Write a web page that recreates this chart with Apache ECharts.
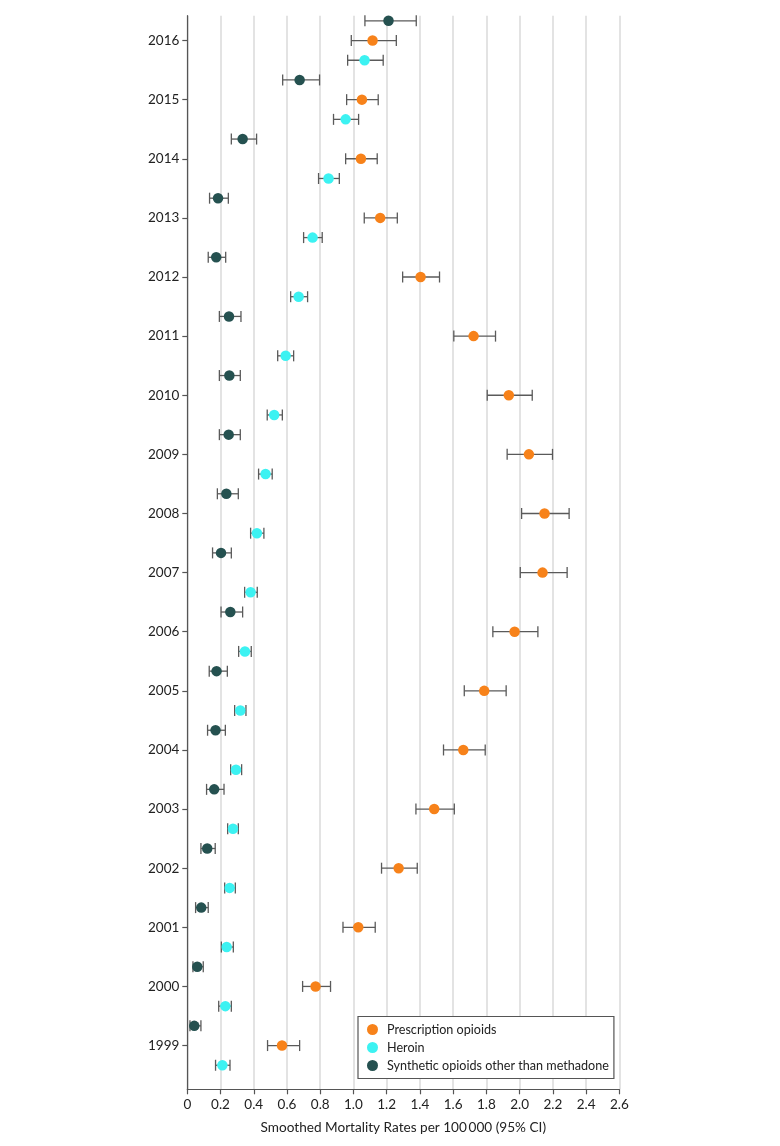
<!DOCTYPE html>
<html>
<head>
<meta charset="utf-8">
<script src="https://cdn.jsdelivr.net/npm/echarts@6/dist/echarts.min.js"></script>
<style>html,body{margin:0;padding:0;background:#fff}#c{width:780px;height:1146px}</style>
</head>
<body>
<div id="c"></div>
<script>
const years = [1999,2000,2001,2002,2003,2004,2005,2006,2007,2008,2009,2010,2011,2012,2013,2014,2015,2016];
const xTicks = [0,0.2,0.4,0.6,0.8,1.0,1.2,1.4,1.6,1.8,2.0,2.2,2.4,2.6];

const prescRate = [0.570,0.772,1.029,1.272,1.486,1.661,1.787,1.970,2.138,2.150,2.056,1.935,1.723,1.404,1.161,1.045,1.051,1.115];
const prescLow  = [0.483,0.694,0.937,1.169,1.376,1.542,1.667,1.839,2.004,2.012,1.925,1.805,1.604,1.296,1.065,0.953,0.959,0.987];
const prescHigh = [0.676,0.862,1.131,1.384,1.607,1.793,1.919,2.110,2.286,2.298,2.198,2.076,1.855,1.518,1.264,1.143,1.149,1.258];

const heroinRate = [0.211,0.229,0.237,0.255,0.275,0.293,0.319,0.347,0.381,0.419,0.471,0.523,0.592,0.670,0.754,0.850,0.953,1.067];
const heroinLow  = [0.170,0.189,0.205,0.225,0.243,0.261,0.285,0.309,0.345,0.381,0.429,0.481,0.544,0.622,0.700,0.790,0.880,0.965];
const heroinHigh = [0.257,0.265,0.277,0.289,0.307,0.327,0.353,0.385,0.421,0.461,0.511,0.572,0.640,0.724,0.812,0.915,1.031,1.179];

const synthRate = [0.042,0.060,0.084,0.120,0.162,0.170,0.176,0.259,0.203,0.235,0.249,0.253,0.251,0.174,0.185,0.333,0.676,1.211];
const synthLow  = [0.016,0.034,0.050,0.082,0.116,0.122,0.132,0.203,0.152,0.181,0.193,0.193,0.193,0.126,0.134,0.265,0.574,1.069];
const synthHigh = [0.082,0.096,0.126,0.168,0.221,0.229,0.241,0.333,0.265,0.307,0.319,0.319,0.323,0.231,0.247,0.417,0.796,1.378];

const seriesNames = ['Prescription opioids','Heroin','Synthetic opioids other than methadone'];
const colors = ['#F7821A','#3CF2F2','#255150'];
const offsets = [0, -1/3, 1/3];

const FONT = 'Lato';
const chart = echarts.init(document.getElementById('c'), null, {renderer:'canvas'});

function pts(rate, off){ return years.map((y,i)=>[rate[i], y+off]); }
function bars(low, high, off){ return years.map((y,i)=>[low[i], high[i], y+off]); }

function errItem(params, api){
  const y = api.value(2);
  const a = api.coord([api.value(0), y]);
  const b = api.coord([api.value(1), y]);
  const h = 5.5;
  const st = {stroke:'#5a5a5a', lineWidth:1.3};
  return {type:'group', children:[
    {type:'line', shape:{x1:a[0],y1:a[1],x2:b[0],y2:b[1]}, style:st},
    {type:'line', shape:{x1:a[0],y1:a[1]-h,x2:a[0],y2:a[1]+h}, style:st},
    {type:'line', shape:{x1:b[0],y1:b[1]-h,x2:b[0],y2:b[1]+h}, style:st}
  ]};
}

const rates = [prescRate, heroinRate, synthRate];
const lows = [prescLow, heroinLow, synthLow];
const highs = [prescHigh, heroinHigh, synthHigh];

const series = [];
for (let k=0;k<3;k++){
  series.push({type:'custom', renderItem:errItem, data:bars(lows[k],highs[k],offsets[k]), encode:{x:[0,1], y:2}, silent:true, z:2});
}
for (let k=0;k<3;k++){
  series.push({type:'scatter', name:seriesNames[k], data:pts(rates[k],offsets[k]), symbol:'circle', symbolSize:10.5,
    itemStyle:{color:colors[k], opacity:1}, z:3});
}

chart.setOption({
  animation:false,
  backgroundColor:'#fff',
  grid:{left:187.3, right:160.7, top:15.7, bottom:56.7, containLabel:false},
  xAxis:{type:'value', min:0, max:2.6, interval:0.2,
    axisLine:{show:true, lineStyle:{color:'#555', width:1.2}},
    axisTick:{show:true, length:5, lineStyle:{color:'#555', width:1.2}},
    axisLabel:{margin:8, color:'#222', fontFamily:FONT, fontSize:13.5,
      formatter:v=> (Math.abs(v)<1e-9 ? '0' : v.toFixed(1))},
    splitLine:{show:true, lineStyle:{color:'#dadada', width:1.5}},
    name:'Smoothed Mortality Rates per 100\u2009000 (95% CI)', nameLocation:'middle', nameGap:31,
    nameTextStyle:{color:'#222', fontFamily:FONT, fontSize:13.6}
  },
  yAxis:{type:'value', min:1998.26, max:2016.42,
    axisLine:{show:true, lineStyle:{color:'#555', width:1.2}},
    axisTick:{show:true, length:5, customValues:years, lineStyle:{color:'#555', width:1.2}},
    axisLabel:{margin:8, color:'#222', fontFamily:FONT, fontSize:13.5, customValues:years, formatter:v=>String(Math.round(v))},
    splitLine:{show:false}
  },
  legend:{orient:'vertical', left:358, top:1016.5, data:seriesNames, icon:'circle', itemWidth:11, itemHeight:11,
    itemGap:4, padding:[6,5,6,9], borderColor:'#555', borderWidth:1.2, borderRadius:0, backgroundColor:'#fff',
    textStyle:{color:'#222', fontFamily:FONT, fontSize:12.6, lineHeight:14, padding:[0,0,0,4]}, selectedMode:false},
  series:series
});
</script>
</body>
</html>
